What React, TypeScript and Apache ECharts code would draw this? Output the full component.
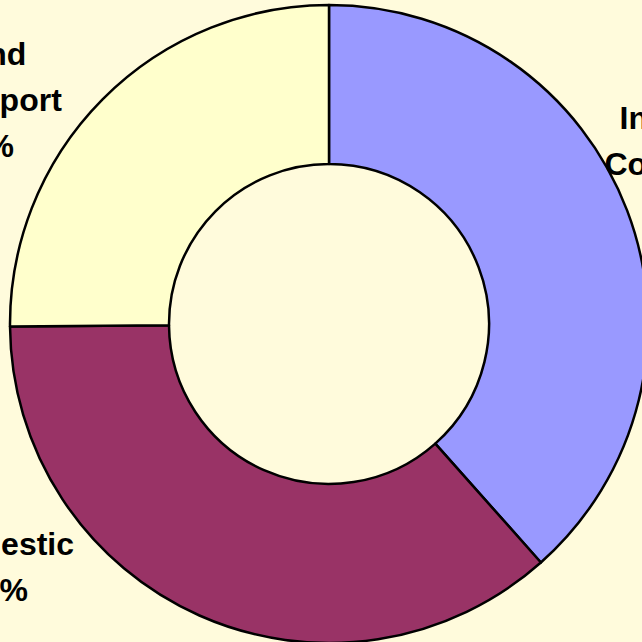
import React, { useEffect, useRef } from "react";
import * as echarts from "echarts";

const categories = ["Industrial/\nCommercial", "Domestic", "Land\nTransport"];
const values = [38.4, 36.4, 25.1];
const colors = ["#9999FF", "#993366", "#FFFFCC"];
// label centres (layout only)
const labelPos = [
  [696, 164],
  [2, 567],
  [-12, 100],
];

export default function App() {
  const ref = useRef<HTMLDivElement>(null);
  useEffect(() => {
    const chart = echarts.init(ref.current!, null, { renderer: "svg" });
    const total = values.reduce((a, b) => a + b, 0);
    const txt = {
      fontFamily: "Liberation Sans, Arial, sans-serif",
      fontWeight: "bold" as const,
      fontSize: 32,
      lineHeight: 46,
      color: "#000",
    };
    chart.setOption({
      animation: false,
      backgroundColor: "#FFFBDC",
      series: [
        {
          type: "pie",
          center: [329, 324],
          radius: [160, 319],
          startAngle: 90,
          clockwise: true,
          avoidLabelOverlap: false,
          itemStyle: { borderColor: "#000", borderWidth: 2.5 },
          label: {
            show: true,
            position: "outside",
            ...txt,
            align: "center",
            rich: {
              pct: { ...txt, padding: [0, 12, 0, 0] },
            },
            formatter: (p: any) =>
              `${p.name}\n{pct|${Math.round((p.value / total) * 100)}%}`,
          },
          labelLine: { show: false },
          labelLayout: (p: any) => ({
            x: labelPos[p.dataIndex][0],
            y: labelPos[p.dataIndex][1],
            align: "center",
            verticalAlign: "middle",
          }),
          emphasis: { disabled: true },
          data: categories.map((c, i) => ({
            name: c,
            value: values[i],
            itemStyle: { color: colors[i] },
          })),
        },
      ],
    });
    return () => chart.dispose();
  }, []);
  return (
    <div
      ref={ref}
      style={{ position: "absolute", left: 0, top: 0, width: 642, height: 642 }}
    />
  );
}
